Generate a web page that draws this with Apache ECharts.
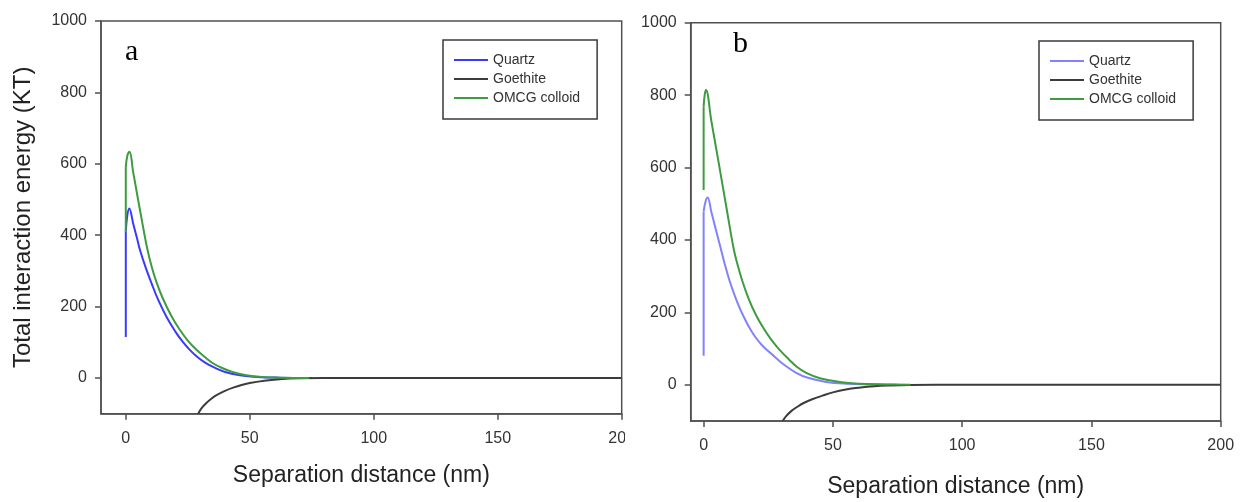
<!DOCTYPE html>
<html>
<head>
<meta charset="utf-8">
<script src="https://cdn.jsdelivr.net/npm/echarts@6/dist/echarts.min.js"></script>
<style>
  html, body { margin: 0; padding: 0; background: #fff; }
  #wrap { position: relative; width: 1247px; height: 502px; overflow: hidden; }
  #chartA { position: absolute; left: 0; top: 0; width: 625px; height: 502px; overflow: hidden; }
  #chartB { position: absolute; left: 625px; top: 0; width: 622px; height: 502px; overflow: hidden; }
</style>
</head>
<body>
<div id="wrap">
  <div id="chartA"></div>
  <div id="chartB"></div>
</div>
<script>
// ---- data ----
const xTickValues = [0, 50, 100, 150, 200];
const yTickValues = [0, 200, 400, 600, 800, 1000];
const seriesNames = ['Quartz', 'Goethite', 'OMCG colloid'];
const panelLabels = ['a', 'b'];
const xAxisTitle = 'Separation distance (nm)';
const yAxisTitle = 'Total interaction energy (KT)';

// panel a: the jump at contact (vertical part) and the decaying curve
const quartzAJump = [[0,115],[0,410]];
const quartzA = [[0,410],[0.6,455],[1.4,475],[3,432],[4.5,392],[5.75,358],[8,310],[10.4,265],[13,220],[16.5,170],[20,130],[23,101],[25.9,78],[29,58],[32,43],[35.2,31],[40,17],[46,8],[53,3],[62,1],[75,0]];
const goethiteA = [[29.2,-100],[30.5,-85],[32.5,-70],[34.5,-58],[36.6,-48],[40,-36],[43.3,-27],[47,-19],[50,-14],[56.7,-7],[63,-3],[70,-1],[80,0],[90,0],[200,0]];
const omcgAJump = [[0,410],[0,590]];
const omcgA = [[0,590],[0.6,622],[1.5,634],[3,576],[5,498],[7,422],[8.6,364],[10.5,310],[12.4,268],[15,222],[18.5,172],[21.5,138],[25,105],[28.5,79],[32,58],[35,42],[37.9,31],[43,17],[48.6,8],[55,3],[62,1],[74,0]];

// panel b
const quartzBJump = [[0,80],[0,478]];
const quartzB = [[0,478],[0.7,505],[1.55,517],[3,477],[5,421],[6.7,374],[8.3,330],[10,288],[12,247],[14,211],[16,181],[18,154],[20,132],[22.5,110],[25.5,90],[28,74],[31,56],[35.8,33],[40,20],[47.4,8],[55,3],[65,1],[75,0]];
const goethiteB = [[30.6,-100],[32,-86],[34,-72],[36,-62],[38.5,-51],[42,-40],[46,-30],[50,-21],[55,-13],[60,-8],[66,-4],[72,-2],[80,-0.5],[90,0],[200,0]];
const omcgBJump = [[0,538],[0,768]];
const omcgB = [[0,768],[0.4,800],[0.9,814],[3,728],[6,606],[9,482],[11.5,380],[13,335],[15.1,284],[17.5,236],[20.3,192],[23,158],[26,126],[29.3,97],[33,70],[36,50],[39.7,33],[45,18],[52.6,8],[60,3],[70,1],[80,0]];

const FONT = '"Liberation Sans", Arial, sans-serif';
const AXIS_COLOR = '#505050';
const GOETHITE_COLOR = '#3c3c3c';
const OMCG_COLOR = '#3f9b3f';

function lineSeries(name, data, color, smooth) {
  return { name: name, type: 'line', data: data, smooth: smooth, smoothConstraint: false, symbol: 'none',
    lineStyle: { color: color, width: 2 }, itemStyle: { color: color } };
}

function buildOption(cfg) {
  return {
    animation: false,
    backgroundColor: 'transparent',
    grid: {
      left: cfg.grid.left, right: cfg.grid.right, top: cfg.grid.top, bottom: cfg.grid.bottom,
      outerBoundsMode: 'none', containLabel: false,
      show: true, borderColor: AXIS_COLOR, borderWidth: 1.5, backgroundColor: 'transparent'
    },
    legend: {
      orient: 'vertical',
      left: cfg.legend.left, top: cfg.legend.top,
      padding: [13, 17, 14, 11],
      itemGap: 5,
      itemWidth: 34, itemHeight: 2,
      icon: 'rect',
      borderColor: '#3a3a3a', borderWidth: 1.5,
      textStyle: { fontFamily: FONT, fontSize: 14, color: '#333', lineHeight: 14 },
      data: seriesNames
    },
    xAxis: {
      type: 'value', min: cfg.xMin, max: 200,
      name: xAxisTitle, nameLocation: 'middle', nameGap: cfg.xNameGap,
      nameTextStyle: { fontFamily: FONT, fontSize: 23, color: '#222' },
      axisLine: { show: true, onZero: false, lineStyle: { color: AXIS_COLOR, width: 1.5 } },
      axisTick: { show: true, length: 6, customValues: xTickValues, lineStyle: { color: AXIS_COLOR, width: 1.5 } },
      axisLabel: { customValues: xTickValues, formatter: function (v) { return String(v); },
        fontFamily: FONT, fontSize: 16, color: '#333', margin: 17 },
      splitLine: { show: false }
    },
    yAxis: {
      type: 'value', min: -100, max: 1000,
      name: cfg.yName, nameLocation: 'middle', nameGap: 66,
      nameTextStyle: { fontFamily: FONT, fontSize: 24, color: '#222' },
      axisLine: { show: true, onZero: false, lineStyle: { color: AXIS_COLOR, width: 1.5 } },
      axisTick: { show: true, length: 6, customValues: yTickValues, lineStyle: { color: AXIS_COLOR, width: 1.5 } },
      axisLabel: { customValues: yTickValues, formatter: function (v) { return String(v); },
        fontFamily: FONT, fontSize: 16, color: '#333', margin: 14 },
      splitLine: { show: false }
    },
    graphic: [{
      type: 'text', left: cfg.label.left, top: cfg.label.top,
      style: { text: cfg.label.text, font: '30px "Liberation Serif", "Times New Roman", serif', fill: '#000' }
    }],
    series: [
      lineSeries(seriesNames[0], cfg.quartzJump, cfg.quartzColor, false),
      lineSeries(seriesNames[0], cfg.quartz, cfg.quartzColor, 0.4),
      lineSeries(seriesNames[1], cfg.goethite, GOETHITE_COLOR, 0.4),
      lineSeries(seriesNames[2], cfg.omcgJump, OMCG_COLOR, false),
      lineSeries(seriesNames[2], cfg.omcg, OMCG_COLOR, 0.4)
    ]
  };
}

const chartA = echarts.init(document.getElementById('chartA'), null, { renderer: 'canvas' });
chartA.setOption(buildOption({
  grid: { left: 101, right: 3.3, top: 21, bottom: 88.3 },
  legend: { left: 443, top: 40 },
  xMin: -10, xNameGap: 50,
  yName: yAxisTitle,
  label: { text: panelLabels[0], left: 125, top: 37 },
  quartzJump: quartzAJump, quartz: quartzA, goethite: goethiteA, omcgJump: omcgAJump, omcg: omcgA,
  quartzColor: '#3a3aff'
}));

const chartB = echarts.init(document.getElementById('chartB'), null, { renderer: 'canvas' });
chartB.setOption(buildOption({
  grid: { left: 65.7, right: 26.3, top: 22.7, bottom: 81 },
  legend: { left: 414, top: 41 },
  xMin: -5, xNameGap: 54,
  yName: '',
  label: { text: panelLabels[1], left: 108, top: 29 },
  quartzJump: quartzBJump, quartz: quartzB, goethite: goethiteB, omcgJump: omcgBJump, omcg: omcgB,
  quartzColor: '#8282ff'
}));
</script>
</body>
</html>
